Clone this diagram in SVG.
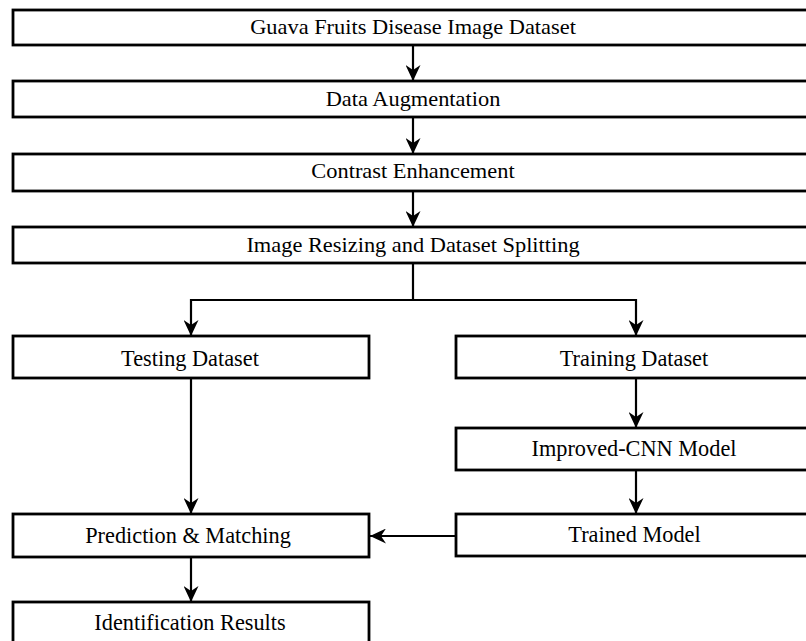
<svg xmlns="http://www.w3.org/2000/svg" width="806" height="641" viewBox="0 0 806 641">
<style>
.box{fill:#fff;stroke:#000;stroke-width:2.8}
.t{font-family:"Liberation Serif","Times New Roman",serif;fill:#000;text-anchor:middle}
.top{font-size:20px}
.low{font-size:22.3px}
.c{fill:none;stroke:#000;stroke-width:2.2}
</style>
<defs>
<marker id="ah" viewBox="0 0 16 15" refX="16" refY="7.5" markerWidth="16" markerHeight="15" markerUnits="userSpaceOnUse" orient="auto">
<path d="M0,0 L16,7.5 L0,15 L5,7.5 Z" fill="#000"/>
</marker>
</defs>
<rect width="806" height="641" fill="#fff"/>
<g id="connectors">
<path class="c" d="M413,45 V81" marker-end="url(#ah)"/>
<path class="c" d="M413,117 V154" marker-end="url(#ah)"/>
<path class="c" d="M413,191 V227" marker-end="url(#ah)"/>
<path class="c" d="M413,263 V300 H191 V336" marker-end="url(#ah)"/>
<path class="c" d="M413,300 H636 V336" marker-end="url(#ah)"/>
<path class="c" d="M191,378 V514" marker-end="url(#ah)"/>
<path class="c" d="M636,378 V428" marker-end="url(#ah)"/>
<path class="c" d="M636,470 V514" marker-end="url(#ah)"/>
<path class="c" d="M456,536 H370" marker-end="url(#ah)"/>
<path class="c" d="M191,557 V602" marker-end="url(#ah)"/>
</g>
<g id="n1"><rect class="box" x="13" y="10" width="800" height="35"/><text class="t top" transform="translate(413,34.3) scale(1.12,1)">Guava Fruits Disease Image Dataset</text></g>
<g id="n2"><rect class="box" x="13" y="81" width="800" height="36"/><text class="t top" transform="translate(413,106) scale(1.12,1)">Data Augmentation</text></g>
<g id="n3"><rect class="box" x="13" y="154" width="800" height="37"/><text class="t top" transform="translate(413,177.5) scale(1.12,1)">Contrast Enhancement</text></g>
<g id="n4"><rect class="box" x="13" y="227" width="800" height="36"/><text class="t top" transform="translate(413,252) scale(1.12,1)">Image Resizing and Dataset Splitting</text></g>
<g id="n5"><rect class="box" x="13" y="336" width="356" height="42"/><text class="t low" x="190" y="366">Testing Dataset</text></g>
<g id="n6"><rect class="box" x="456" y="336" width="360" height="42"/><text class="t low" x="634" y="366">Training Dataset</text></g>
<g id="n7"><rect class="box" x="456" y="428" width="360" height="42"/><text class="t low" x="634" y="456">Improved-CNN Model</text></g>
<g id="n8"><rect class="box" x="456" y="514" width="360" height="42"/><text class="t low" x="634.5" y="542">Trained Model</text></g>
<g id="n9"><rect class="box" x="13" y="514" width="356" height="43"/><text class="t low" x="188" y="543">Prediction &amp; Matching</text></g>
<g id="n10"><rect class="box" x="13" y="602" width="356" height="50"/><text class="t low" x="190" y="630">Identification Results</text></g>
</svg>
